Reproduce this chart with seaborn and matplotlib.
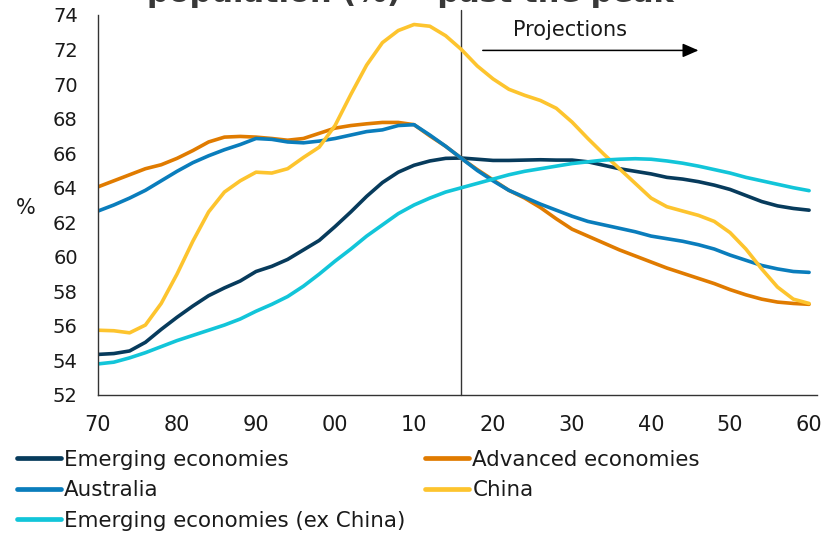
import numpy as np
import pandas as pd
import matplotlib
matplotlib.use("Agg")
import matplotlib.pyplot as plt
import seaborn as sns
from matplotlib.lines import Line2D

# Working-age share of population, %, every second year 1970-2060
years = list(range(1970, 2061, 2))

emerging = [54.35, 54.4, 54.55, 55.05, 55.8, 56.5, 57.15, 57.75, 58.2, 58.6,
            59.15, 59.45, 59.85, 60.4, 60.95, 61.75, 62.6, 63.5, 64.3, 64.9,
            65.3, 65.55, 65.7, 65.72, 65.65, 65.58, 65.58, 65.6, 65.62, 65.6,
            65.6, 65.5, 65.3, 65.1, 64.95, 64.8, 64.6, 64.5, 64.35, 64.15,
            63.9, 63.55, 63.2, 62.95, 62.8, 62.7]

advanced = [64.05, 64.4, 64.75, 65.1, 65.33, 65.7, 66.15, 66.65, 66.93, 66.97,
            66.93, 66.85, 66.75, 66.85, 67.15, 67.45, 67.6, 67.7, 67.78, 67.78,
            67.65, 67.0, 66.4, 65.7, 65.05, 64.45, 63.85, 63.4, 62.85, 62.2,
            61.6, 61.2, 60.8, 60.4, 60.05, 59.7, 59.35, 59.05, 58.75, 58.45,
            58.1, 57.8, 57.55, 57.38, 57.3, 57.25]

australia = [62.65, 63.0, 63.4, 63.85, 64.4, 64.95, 65.45, 65.85, 66.2, 66.5,
             66.85, 66.8, 66.65, 66.6, 66.7, 66.85, 67.05, 67.25, 67.35, 67.6,
             67.65, 67.05, 66.4, 65.7, 65.0, 64.4, 63.85, 63.45, 63.05, 62.7,
             62.35, 62.05, 61.85, 61.65, 61.45, 61.2, 61.05, 60.9, 60.7, 60.45,
             60.1, 59.8, 59.5, 59.3, 59.15, 59.1]

china = [55.75, 55.72, 55.6, 56.05, 57.3, 59.0, 60.9, 62.6, 63.75, 64.4,
         64.9, 64.85, 65.1, 65.75, 66.35, 67.6, 69.4, 71.1, 72.4, 73.1,
         73.45, 73.35, 72.8, 72.0, 71.05, 70.3, 69.7, 69.35, 69.05, 68.6,
         67.8, 66.85, 65.95, 65.1, 64.25, 63.4, 62.9, 62.65, 62.4, 62.05,
         61.4, 60.45, 59.3, 58.25, 57.55, 57.3]

emerging_ex_china = [53.8, 53.9, 54.15, 54.45, 54.8, 55.15, 55.45, 55.75, 56.05, 56.4,
                     56.85, 57.25, 57.7, 58.3, 59.0, 59.75, 60.45, 61.2, 61.85, 62.5,
                     63.0, 63.4, 63.75, 64.0, 64.25, 64.5, 64.75, 64.95, 65.1, 65.25,
                     65.4, 65.5, 65.6, 65.65, 65.68, 65.65, 65.55, 65.42, 65.25, 65.05,
                     64.85, 64.6, 64.4, 64.2, 64.0, 63.83]

series_names = ["Emerging economies", "Advanced economies", "Australia",
                "China", "Emerging economies (ex China)"]
series_values = [emerging, advanced, australia, china, emerging_ex_china]
colors = ["#073B5C", "#E07B00", "#0A7DBC", "#FDC42E", "#12C5D9"]

y_ticks = list(range(52, 75, 2))
x_ticks = list(range(1970, 2061, 10))
x_tick_labels = ["70", "80", "90", "00", "10", "20", "30", "40", "50", "60"]
projection_start = 2016

df = pd.concat(
    [pd.DataFrame({"year": years, "value": vals, "series": name})
     for name, vals in zip(series_names, series_values)],
    ignore_index=True,
)

sns.set_theme(style="white")
plt.rcParams["font.family"] = ["DejaVu Sans"]
ink = "#1a1a1a"
axis_col = "#333333"

fig = plt.figure(figsize=(8.35, 5.34), dpi=100)
ax = fig.add_axes([98 / 835, 1 - 395 / 534, 719 / 835, 380 / 534])

sns.lineplot(data=df, x="year", y="value", hue="series", hue_order=series_names,
             palette=colors, linewidth=2.6, legend=True, ax=ax)
for ln in ax.get_lines():
    ln.set_solid_capstyle("round")
    ln.set_solid_joinstyle("round")

ax.set_xlim(1970, 2061)
ax.set_ylim(52, 74)
ax.set_yticks(y_ticks)
ax.set_yticklabels([str(v) for v in y_ticks], fontsize=14, color=ink)
ax.set_xticks(x_ticks)
ax.set_xticklabels(x_tick_labels, fontsize=15, color=ink)
ax.set_xlabel("")
ax.set_ylabel("%", rotation=0, fontsize=15, color=ink, ha="center", va="center")
ax.yaxis.set_label_coords(-0.100, 0.492)

for side in ("top", "right"):
    ax.spines[side].set_visible(False)
for side in ("left", "bottom"):
    ax.spines[side].set_color(axis_col)
    ax.spines[side].set_linewidth(1.0)
ax.tick_params(axis="both", direction="out", length=4.5, width=1.0,
               color=axis_col, pad=10)
ax.grid(False)

# projection boundary and label
ax.axvline(projection_start, ymin=0, ymax=1.014, color=axis_col, lw=1.0,
           clip_on=False, zorder=1)
ax.annotate("", xy=(2046.0, 71.95), xytext=(2018.7, 71.95),
            arrowprops=dict(arrowstyle="-|>,head_length=0.8,head_width=0.35",
                            color="black", lw=1.1, shrinkA=0, shrinkB=0))
ax.text(2029.7, 72.8, "Projections", fontsize=15, color=ink,
        ha="center", va="baseline")

# title (last line, running off the top edge)
fig.text(410 / 835, 1 - 2.5 / 534, "population (%) – past the peak",
         fontsize=22, fontweight="bold", color="#383838",
         ha="center", va="baseline")

# legend in two columns
handles, labels = ax.get_legend_handles_labels()
ax.get_legend().remove()
lookup = dict(zip(labels, handles))

def make_handles(names):
    out = []
    for n in names:
        h = lookup[n]
        out.append(Line2D([0], [0], color=h.get_color(), lw=3.4,
                          solid_capstyle="round"))
    return out

left_names = ["Emerging economies", "Australia", "Emerging economies (ex China)"]
right_names = ["Advanced economies", "China"]
common = dict(frameon=False, fontsize=15.4, handlelength=2.05, handletextpad=0.16,
              borderpad=0, borderaxespad=0, labelspacing=0.5, loc="upper left",
              labelcolor=ink)
fig.legend(make_handles(left_names), left_names,
           bbox_to_anchor=(16.7 / 835, 1 - 449.5 / 534), **common)
fig.legend(make_handles(right_names), right_names,
           bbox_to_anchor=(425 / 835, 1 - 449.5 / 534), **common)

fig.savefig("out.png", dpi=100)
